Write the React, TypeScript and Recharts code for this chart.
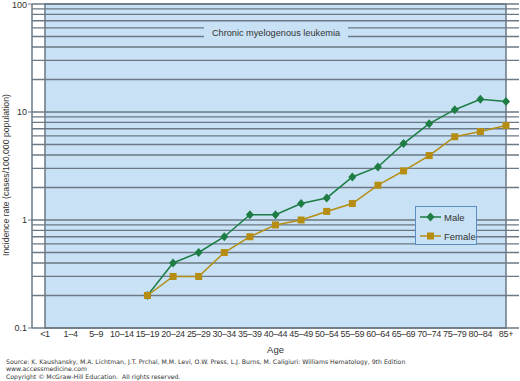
import { LineChart, Line, XAxis, YAxis, ReferenceLine, ReferenceArea } from "recharts";

const ages = ["<1", "1–4", "5–9", "10–14", "15–19", "20–24", "25–29", "30–34", "35–39", "40–44", "45–49", "50–54", "55–59", "60–64", "65–69", "70–74", "75–79", "80–84", "85+"];
const male = [null, null, null, null, 0.2, 0.4, 0.5, 0.7, 1.12, 1.12, 1.42, 1.6, 2.5, 3.1, 5.1, 7.8, 10.5, 13.1, 12.5];
const female = [null, null, null, null, 0.2, 0.3, 0.3, 0.5, 0.7, 0.9, 1.0, 1.2, 1.42, 2.1, 2.85, 3.95, 5.9, 6.6, 7.5];
const series = [
  { key: "male", name: "Male" },
  { key: "female", name: "Female" },
];
const yTicks = [0.1, 1, 10, 100];
const gridValues = [0.2, 0.3, 0.4, 0.5, 0.6, 0.7, 0.8, 0.9, 1, 2, 3, 4, 5, 6, 7, 8, 9, 10, 20, 30, 40, 50, 60, 70, 80, 90, 100];
const title = "Chronic myelogenous leukemia";
const sourceLines = [
  "Source: K. Kaushansky, M.A. Lichtman, J.T. Prchal, M.M. Levi, O.W. Press, L.J. Burns, M. Caligiuri: Williams Hematology, 9th Edition",
  "www.accessmedicine.com",
  "Copyright © McGraw-Hill Education.  All rights reserved.",
];

const data = ages.map((age, i) => ({ age, male: male[i], female: female[i] }));

const GREEN = "#1d7d44";
const GOLD = "#b48d12";
const BG = "#c8e1f4";
const GRID = "#6b7885";
const FONT = "'Liberation Sans', Arial, sans-serif";
const colors: Record<string, string> = { male: GREEN, female: GOLD };

function Diamond(props: any) {
  const { cx, cy, index } = props;
  if (cx == null || cy == null) return <g key={index} />;
  return <path key={index} d={`M${cx},${cy - 4.5}L${cx + 4},${cy}L${cx},${cy + 4.5}L${cx - 4},${cy}Z`} fill={GREEN} />;
}

function Square(props: any) {
  const { cx, cy, index } = props;
  if (cx == null || cy == null) return <g key={index} />;
  return <rect key={index} x={cx - 3.5} y={cy - 3.5} width={7} height={7} fill={GOLD} />;
}

// rotated axis title, a bit left of the tick labels and slightly below the plot's middle
function YLabel(props: any) {
  const vb = props.viewBox || {};
  const x = vb.x + 6;
  const y = vb.y + vb.height / 2 + 9;
  return (
    <text x={x} y={y} transform={`rotate(-90 ${x} ${y})`} textAnchor="middle" dominantBaseline="central" fontSize={8.7} fill="#333" fontFamily={FONT}>
      Incidence rate (cases/100,000 population)
    </text>
  );
}

export default function App() {
  return (
    <div style={{ position: "absolute", left: 0, top: 0, width: 520, height: 381, background: "#fff", fontFamily: FONT }}>
      <LineChart width={520} height={381} data={data} margin={{ top: 4, right: 1, bottom: 27, left: 0 }}>
        <ReferenceArea y1={0.1} y2={100} fill={BG} fillOpacity={1} stroke={GRID} strokeWidth={1.5} ifOverflow="extendDomain" />
        {gridValues.map((v) => (
          <ReferenceLine key={v} y={v} stroke={GRID} strokeWidth={1.3} />
        ))}
        <XAxis
          dataKey="age"
          interval={0}
          tickLine={false}
          tickSize={3}
          axisLine={{ stroke: GRID, strokeWidth: 1.5 }}
          padding={{ left: 13, right: 13 }}
          tick={{ fontSize: 9, fill: "#333", fontFamily: FONT, letterSpacing: -0.3 }}
          tickMargin={0}
          height={26}
          label={{ value: "Age", position: "insideBottom", offset: 1, fontSize: 9.5, fill: "#333", fontFamily: FONT }}
        />
        <YAxis
          scale="log"
          domain={[0.1, 100]}
          ticks={yTicks}
          allowDataOverflow
          width={32}
          tickSize={4}
          tickMargin={1}
          tickFormatter={(v: number) => String(v)}
          axisLine={{ stroke: GRID, strokeWidth: 1.5 }}
          tickLine={{ stroke: GRID }}
          tick={{ fontSize: 9, fill: "#333", fontFamily: FONT }}
          label={<YLabel />}
        />
        <Line name="Male" dataKey="male" stroke={GREEN} strokeWidth={1.5} dot={Diamond} isAnimationActive={false} />
        <Line name="Female" dataKey="female" stroke={GOLD} strokeWidth={1.5} dot={Square} isAnimationActive={false} />
      </LineChart>
      <div style={{ position: "absolute", left: 204, top: 23, width: 144, height: 20, background: BG, fontSize: 9.2, color: "#333", display: "flex", alignItems: "center", justifyContent: "center", whiteSpace: "nowrap" }}>
        {title}
      </div>
      <div style={{ position: "absolute", left: 415, top: 206, width: 60, height: 37, border: "1px solid #5b8fc4", background: BG, fontSize: 9.5, color: "#333" }}>
        {series.map((s) => (
          <div key={s.key} style={{ display: "flex", alignItems: "center", height: 18, marginTop: 1 }}>
            <svg width={24} height={10} style={{ marginLeft: 3 }}>
              <line x1={1} y1={5} x2={22} y2={5} stroke={colors[s.key]} strokeWidth={1.5} />
              {s.key === "male" ? (
                <path d="M11.5,0.5L15.5,5L11.5,9.5L7.5,5Z" fill={GREEN} />
              ) : (
                <rect x={8} y={1.5} width={7} height={7} fill={GOLD} />
              )}
            </svg>
            <span style={{ marginLeft: 1 }}>{s.name}</span>
          </div>
        ))}
      </div>
      <div style={{ position: "absolute", left: 6, top: 358, fontFamily: "'DejaVu Sans', Verdana, sans-serif", fontSize: 6.2, lineHeight: "7.3px", color: "#333", whiteSpace: "pre" }}>
        {sourceLines.map((s, i) => (
          <div key={i}>{s}</div>
        ))}
      </div>
    </div>
  );
}
